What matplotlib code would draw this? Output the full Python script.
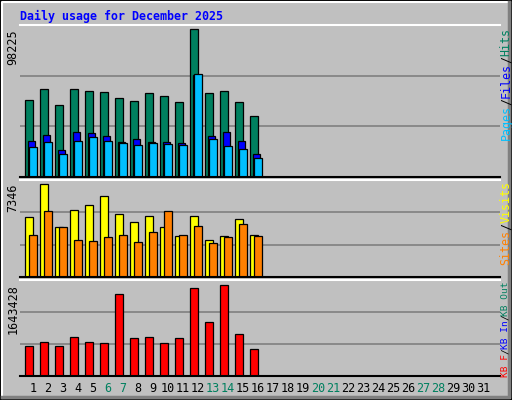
import matplotlib
matplotlib.use("Agg")
import matplotlib.pyplot as plt
import numpy as np

days = list(range(1, 32))
hits = [51560, 58930, 48220, 58270, 57590, 56920, 52910, 50900, 56260, 54250, 50230, 98225, 56260, 57590, 50230, 40850]
files = [24110, 28130, 18080, 30140, 29470, 27460, 23440, 25450, 23440, 23440, 22770, 67640, 27460, 30140, 24110, 15400]
pages = [20090, 23440, 15400, 24110, 26790, 24110, 22770, 21430, 22770, 22100, 21430, 68310, 25450, 20760, 18750, 12720]
visits = [4790, 7346, 3990, 5350, 5750, 6470, 5030, 4390, 4870, 3990, 3270, 4870, 2950, 3270, 4630, 3350]
sites = [3350, 5270, 3990, 2950, 2870, 3190, 3350, 2790, 3590, 5270, 3350, 4070, 2710, 3190, 4230, 3270]
kbytes = [541800, 614000, 541800, 704300, 614000, 596000, 1481000, 686000, 704300, 596000, 686000, 1589000, 975000, 1643428, 758500, 487600]
weekends = [6, 7, 13, 14, 20, 21, 27, 28]
left_labels = ["98225", "7346", "1643428"]

W, H = 512, 400
BG = "#C0C0C0"
fig = plt.figure(figsize=(W / 100, H / 100), dpi=100, facecolor=BG)
mono = "DejaVu Sans Mono"

def ax_at(x0, y0, x1, y1):
    return fig.add_axes([x0 / W, 1 - y1 / H, (x1 - x0) / W, (y1 - y0) / H])

L = 1 - 13 / 15
XR = (L, L + 480 / 15)
panels = [(25, 177), (180, 277), (280, 376)]
maxes = [98225, 7346, 1643428]
axes = []
for (y0, y1), m in zip(panels, maxes):
    ax = ax_at(20, y0, 500, y1)
    ax.set_facecolor(BG)
    ax.set_xlim(*XR)
    top_margin = 4.5
    ax.set_ylim(0, m * (y1 - y0) / (y1 - y0 - top_margin))
    top = ax.get_ylim()[1]
    for f in (1 / 3, 2 / 3):
        ax.axhline(top * f, color="#808080", lw=1.2, zorder=0)
    ax.set_xticks([]); ax.set_yticks([])
    for s in ("left", "right"):
        ax.spines[s].set_visible(False)
    ax.spines["bottom"].set_color("black")
    ax.spines["bottom"].set_linewidth(1.5)
    ax.spines["top"].set_color("white")
    ax.spines["top"].set_linewidth(1.5)
    axes.append(ax)

n = len(hits)
d = np.arange(1, n + 1)
kw = dict(align="edge", width=0.5, edgecolor="black", linewidth=0.9)
axes[0].bar(d - 0.533, hits, color="#00805F", **kw)
axes[0].bar(d - 0.355, files, color="#0000FF", **kw)
axes[0].bar(d - 0.25, pages, color="#00BFFF", **kw)
axes[1].bar(d - 0.533, visits, color="#FFFF00", **kw)
axes[1].bar(d - 0.25, sites, color="#FF8000", **kw)
axes[2].bar(d - 0.533, kbytes, color="#FF0000", **kw)

for day in days:
    x = 20 + 15 * (day - L)
    fig.text(x / W, 1 - 389 / H, str(day), ha="center", va="center",
             fontsize=8.5, family=mono,
             color="#00805F" if day in weekends else "black")

fig.text(20 / W, 1 - 16 / H, "Daily usage for December 2025", ha="left",
         va="center", fontsize=8.4, family=mono, weight="bold", color="#0000FF")

for (y0, y1), lab in zip(panels, left_labels):
    fig.text(13 / W, 1 - (y0 + 4) / H, lab, rotation=90, ha="center", va="top",
             fontsize=8.5, family=mono, color="black")

def right_label(pieces, ytop, step, fs):
    y = ytop
    for txt, col in pieces:
        fig.text(506 / W, 1 - y / H, txt, rotation=90, ha="center", va="top",
                 fontsize=fs, family=mono, color=col)
        y += step * len(txt)

right_label([("Hits", "#00805F"), ("/", "black"), ("Files", "#0000FF"),
             ("/", "black"), ("Pages", "#00BFFF")], 28, 7, 8.4)
right_label([("Visits", "#FFFF00"), ("/", "black"), ("Sites", "#FF8000")], 181, 7, 8.4)
right_label([("KB Out", "#00805F"), ("/", "black"), ("KB In", "#0000FF"),
             ("/", "black"), ("KB F", "#FF0000")], 281, 5.6, 6.8)

fig.add_artist(plt.Rectangle((0, 0), 1, 1, transform=fig.transFigure, fill=False,
                             edgecolor="black", lw=2))
fig.add_artist(plt.Line2D([2 / W, 2 / W, 1 - 2 / W], [2 / H, 1 - 2 / H, 1 - 2 / H],
                          transform=fig.transFigure, color="white", lw=1.5))
fig.add_artist(plt.Line2D([2 / W, 1 - 3 / W, 1 - 3 / W], [3 / H, 3 / H, 1 - 2 / H],
                          transform=fig.transFigure, color="#808080", lw=2.5))

fig.savefig("out.png", dpi=100, facecolor=BG)
